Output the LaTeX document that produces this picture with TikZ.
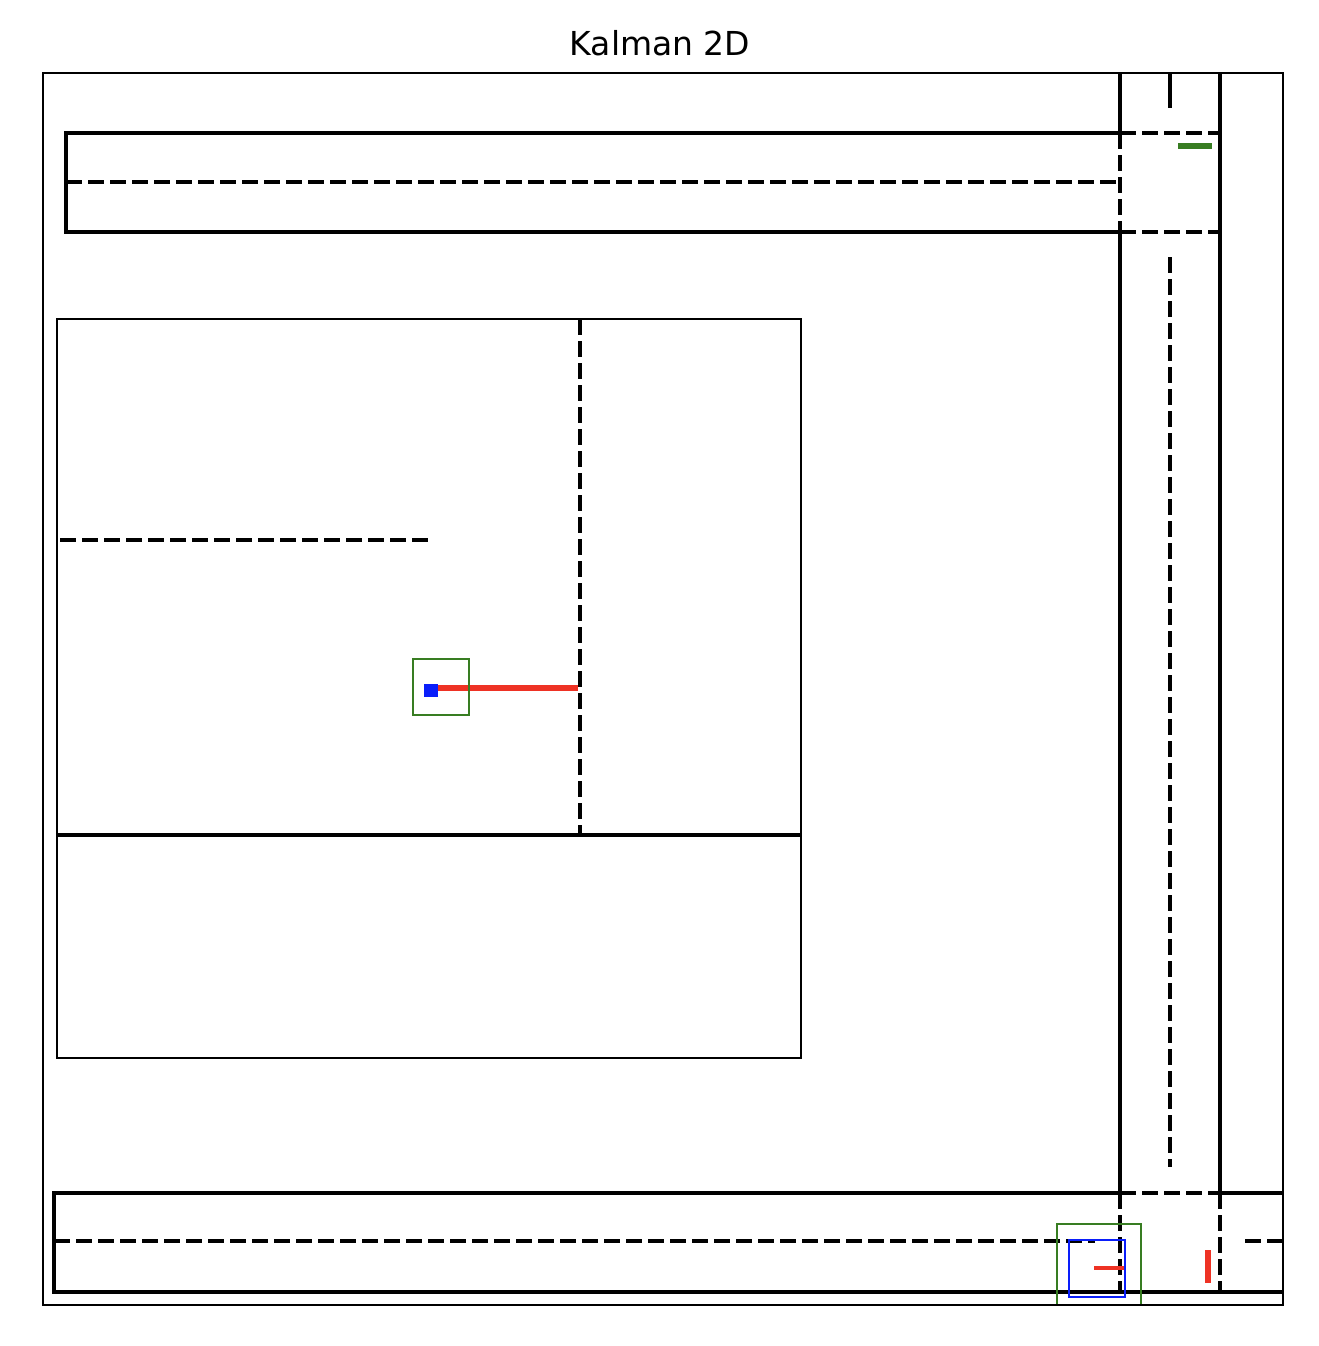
\documentclass[tikz,border=0pt]{standalone}
\usepackage{fontspec}
\newfontfamily\dejavu{DejaVu Sans}
\definecolor{mgreen}{RGB}{56,125,34}
\definecolor{mred}{RGB}{238,50,36}
\definecolor{mblue}{RGB}{10,30,250}
\begin{document}
\begin{tikzpicture}[x=1pt,y=-1pt,
  road/.style={line width=3.5pt,black},
  lane/.style={line width=3.5pt,black,dash pattern=on 16pt off 6pt},
  frame/.style={line width=1.7pt,black},
  thinbox/.style={line width=1.7pt},
  stroke/.style={line width=6.5pt,line cap=butt}]
\useasboundingbox[fill=white] (0,0) rectangle (1318,1346);
\node[font=\dejavu\fontsize{33}{40}\selectfont,inner sep=0pt] (title) at (660,43) {Kalman 2D};
% top road
\draw[road] (1120,133) -- (66,133) -- (66,232) -- (1120,232);
\draw[lane] (1120,133) -- (1220,133);
\draw[lane] (1120,232) -- (1220,232);
\draw[lane] (66,182) -- (1120,182);
% vertical road
\draw[road] (1120,73) -- (1120,133);
\draw[lane] (1120,133) -- (1120,232);
\draw[road] (1120,232) -- (1120,1193);
\draw[lane] (1120,1193) -- (1120,1292);
\draw[road] (1220,73) -- (1220,1193);
\draw[lane] (1220,1193) -- (1220,1292);
\draw[road,line cap=butt] (1170,73) -- (1170,108);
\draw[lane] (1170,257) -- (1170,1167);
% bottom road
\draw[road] (1120,1193) -- (54,1193) -- (54,1292) -- (1283,1292);
\draw[lane] (1120,1193) -- (1220,1193);
\draw[road] (1220,1193) -- (1283,1193);
\draw[lane] (54,1241) -- (1095,1241);
\draw[lane] (1245,1241) -- (1283,1241);
% inner region
\draw[frame] (57,319) rectangle (801,1058);
\draw[road] (57,835) -- (801,835);
\draw[lane] (580,319) -- (580,835);
\draw[lane] (60,540) -- (430,540);
% vehicle in region
\draw[stroke,mred] (431,688) -- (578,688);
\fill[mblue] (424,684) rectangle (438,697);
\draw[thinbox,mgreen] (413,659) rectangle (469,715);
% bottom right vehicle
\draw[thinbox,mgreen] (1057,1224) rectangle (1141,1305);
\draw[thinbox,mblue] (1069,1240) rectangle (1125,1297);
\draw[line width=4pt,mred] (1094,1268) -- (1124,1268);
\draw[stroke,mred] (1208,1250) -- (1208,1283);
\draw[stroke,mgreen] (1178,146) -- (1212,146);
% axes frame
\draw[frame] (43,73) rectangle (1283,1305);
\end{tikzpicture}
\end{document}
